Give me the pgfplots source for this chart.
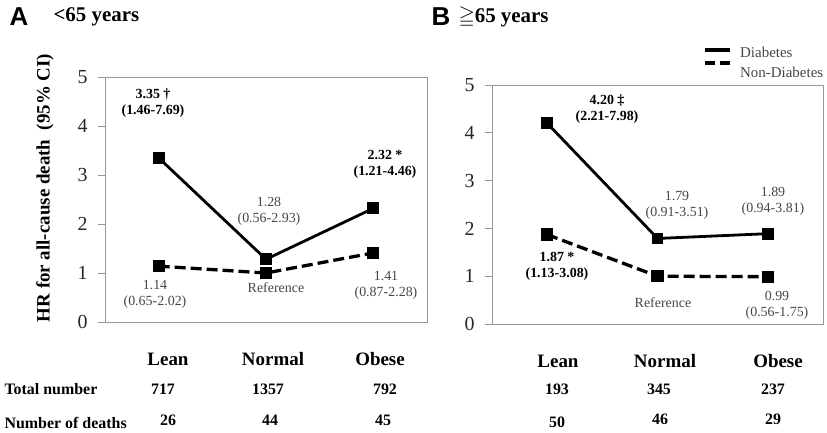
\documentclass[border=0pt]{standalone}
\usepackage{pgfplots}
\pgfplotsset{compat=1.18}
\usepackage{amssymb}
\usepackage{fontspec}
\setmainfont{Liberation Serif}
\setsansfont{Liberation Sans}
\definecolor{boxgray}{RGB}{150,150,150}
\definecolor{txtgray}{RGB}{70,70,70}

\newcommand{\fs}[1]{\fontsize{#1}{#1}\selectfont}

\pgfplotsset{
  hrpanel/.style={
    anchor=south west, scale only axis, clip=false,
    xmin=-0.5, xmax=2.5, ymin=0, ymax=5,
    xtick=\empty, ytick={0,1,2,3,4,5},
    yticklabels={0,1,2,3,4,5},
    ytick pos=left, tick align=outside, major tick length=7bp,
    axis line style={boxgray, line width=0.8bp},
    tick style={boxgray, line width=0.8bp},
    yticklabel style={text=black!85, font=\fs{20}, xshift=-7bp},
    /pgf/number format/assume math mode=true,
  },
  diab/.style={black, line width=2.8bp, mark=square*, mark size=4.5bp,
               mark options={solid, fill=black}},
  nond/.style={black, line width=3.3bp, dash pattern=on 11bp off 5bp,
               mark=square*, mark size=4.5bp, mark options={solid, fill=black}},
}

\begin{document}
\begin{tikzpicture}[x=1bp, y=1bp]
\useasboundingbox (0,0) rectangle (827,-432);

% panel A
\begin{axis}[hrpanel, at={(105bp,-322bp)}, width=322bp, height=245bp]
  \addplot[diab] coordinates {(0,3.35) (1,1.28) (2,2.32)};
  \addplot[nond] coordinates {(0,1.14) (1,1.00) (2,1.41)};
\end{axis}

% panel B
\begin{axis}[hrpanel, at={(492bp,-324bp)}, width=331bp, height=239bp]
  \addplot[diab] coordinates {(0,4.20) (1,1.79) (2,1.89)};
  \addplot[nond] coordinates {(0,1.87) (1,1.00) (2,0.99)};
\end{axis}

% legend
\draw[black, line width=3.5bp] (705,-50) -- (730,-50);
\draw[black, line width=3.5bp] (705,-63) -- (715,-63) (720,-63) -- (730,-63);
\node[anchor=west, text=txtgray, font=\fs{15}, inner sep=0pt] at (740,-52) {Diabetes};
\node[anchor=west, text=txtgray, font=\fs{15}, inner sep=0pt] at (740,-72) {Non-Diabetes};

% headings
\node[anchor=west, font=\sffamily\bfseries\fs{26}] at (6,-17) {A};
\node[anchor=west, font=\bfseries\fs{21}] at (50,-17) {<65 years};
\node[anchor=west, font=\sffamily\bfseries\fs{26}] at (428,-17) {B};
\node[anchor=west, font=\bfseries\fs{21}] at (455,-17) {$\geqq$65 years};

% y label
\node[rotate=90, font=\bfseries\fs{19}] at (45,-188) {HR for all-cause death\ \ (95\% CI)};

% annotations
\begin{scope}[font=\fs{14}]
\node[font=\bfseries\fs{14}, align=center] at (153,-103) {3.35 \dag\\[2bp](1.46-7.69)};
\node[text=txtgray, align=center] at (269,-211) {1.28\\[2bp](0.56-2.93)};
\node[font=\bfseries\fs{14}, align=center] at (385,-164) {2.32 *\\[2bp](1.21-4.46)};
\node[text=txtgray, align=center] at (155,-294) {1.14\\[2bp](0.65-2.02)};
\node[text=txtgray] at (276,-288) {Reference};
\node[text=txtgray, align=center] at (386,-285) {1.41\\[2bp](0.87-2.28)};
\node[font=\bfseries\fs{14}, align=center] at (607,-109) {4.20 \ddag\\[2bp](2.21-7.98)};
\node[text=txtgray, align=center] at (677,-205) {1.79\\[2bp](0.91-3.51)};
\node[text=txtgray, align=center] at (773,-201) {1.89\\[2bp](0.94-3.81)};
\node[font=\bfseries\fs{14}, align=center] at (557,-266) {1.87 *\\[2bp](1.13-3.08)};
\node[text=txtgray] at (663,-303) {Reference};
\node[text=txtgray, align=center] at (777,-305) {0.99\\[2bp](0.56-1.75)};
\end{scope}

% table below
\begin{scope}[font=\bfseries\fs{16}]
\node[anchor=west] at (1,-389) {Total number};
\node[anchor=west] at (1,-423) {Number of deaths};
\node[font=\bfseries\fs{19}] at (168,-359) {Lean};
\node[font=\bfseries\fs{19}] at (273,-359) {Normal};
\node[font=\bfseries\fs{19}] at (380,-359) {Obese};
\node at (163,-389) {717};
\node at (268,-389) {1357};
\node at (385,-389) {792};
\node at (168,-420) {26};
\node at (270,-420) {44};
\node at (383,-420) {45};
\node[font=\bfseries\fs{19}] at (558,-361) {Lean};
\node[font=\bfseries\fs{19}] at (665,-361) {Normal};
\node[font=\bfseries\fs{19}] at (778,-361) {Obese};
\node at (557,-389) {193};
\node at (659,-389) {345};
\node at (773,-389) {237};
\node at (557,-422) {50};
\node at (660,-419) {46};
\node at (773,-419) {29};
\end{scope}
\end{tikzpicture}
\end{document}
